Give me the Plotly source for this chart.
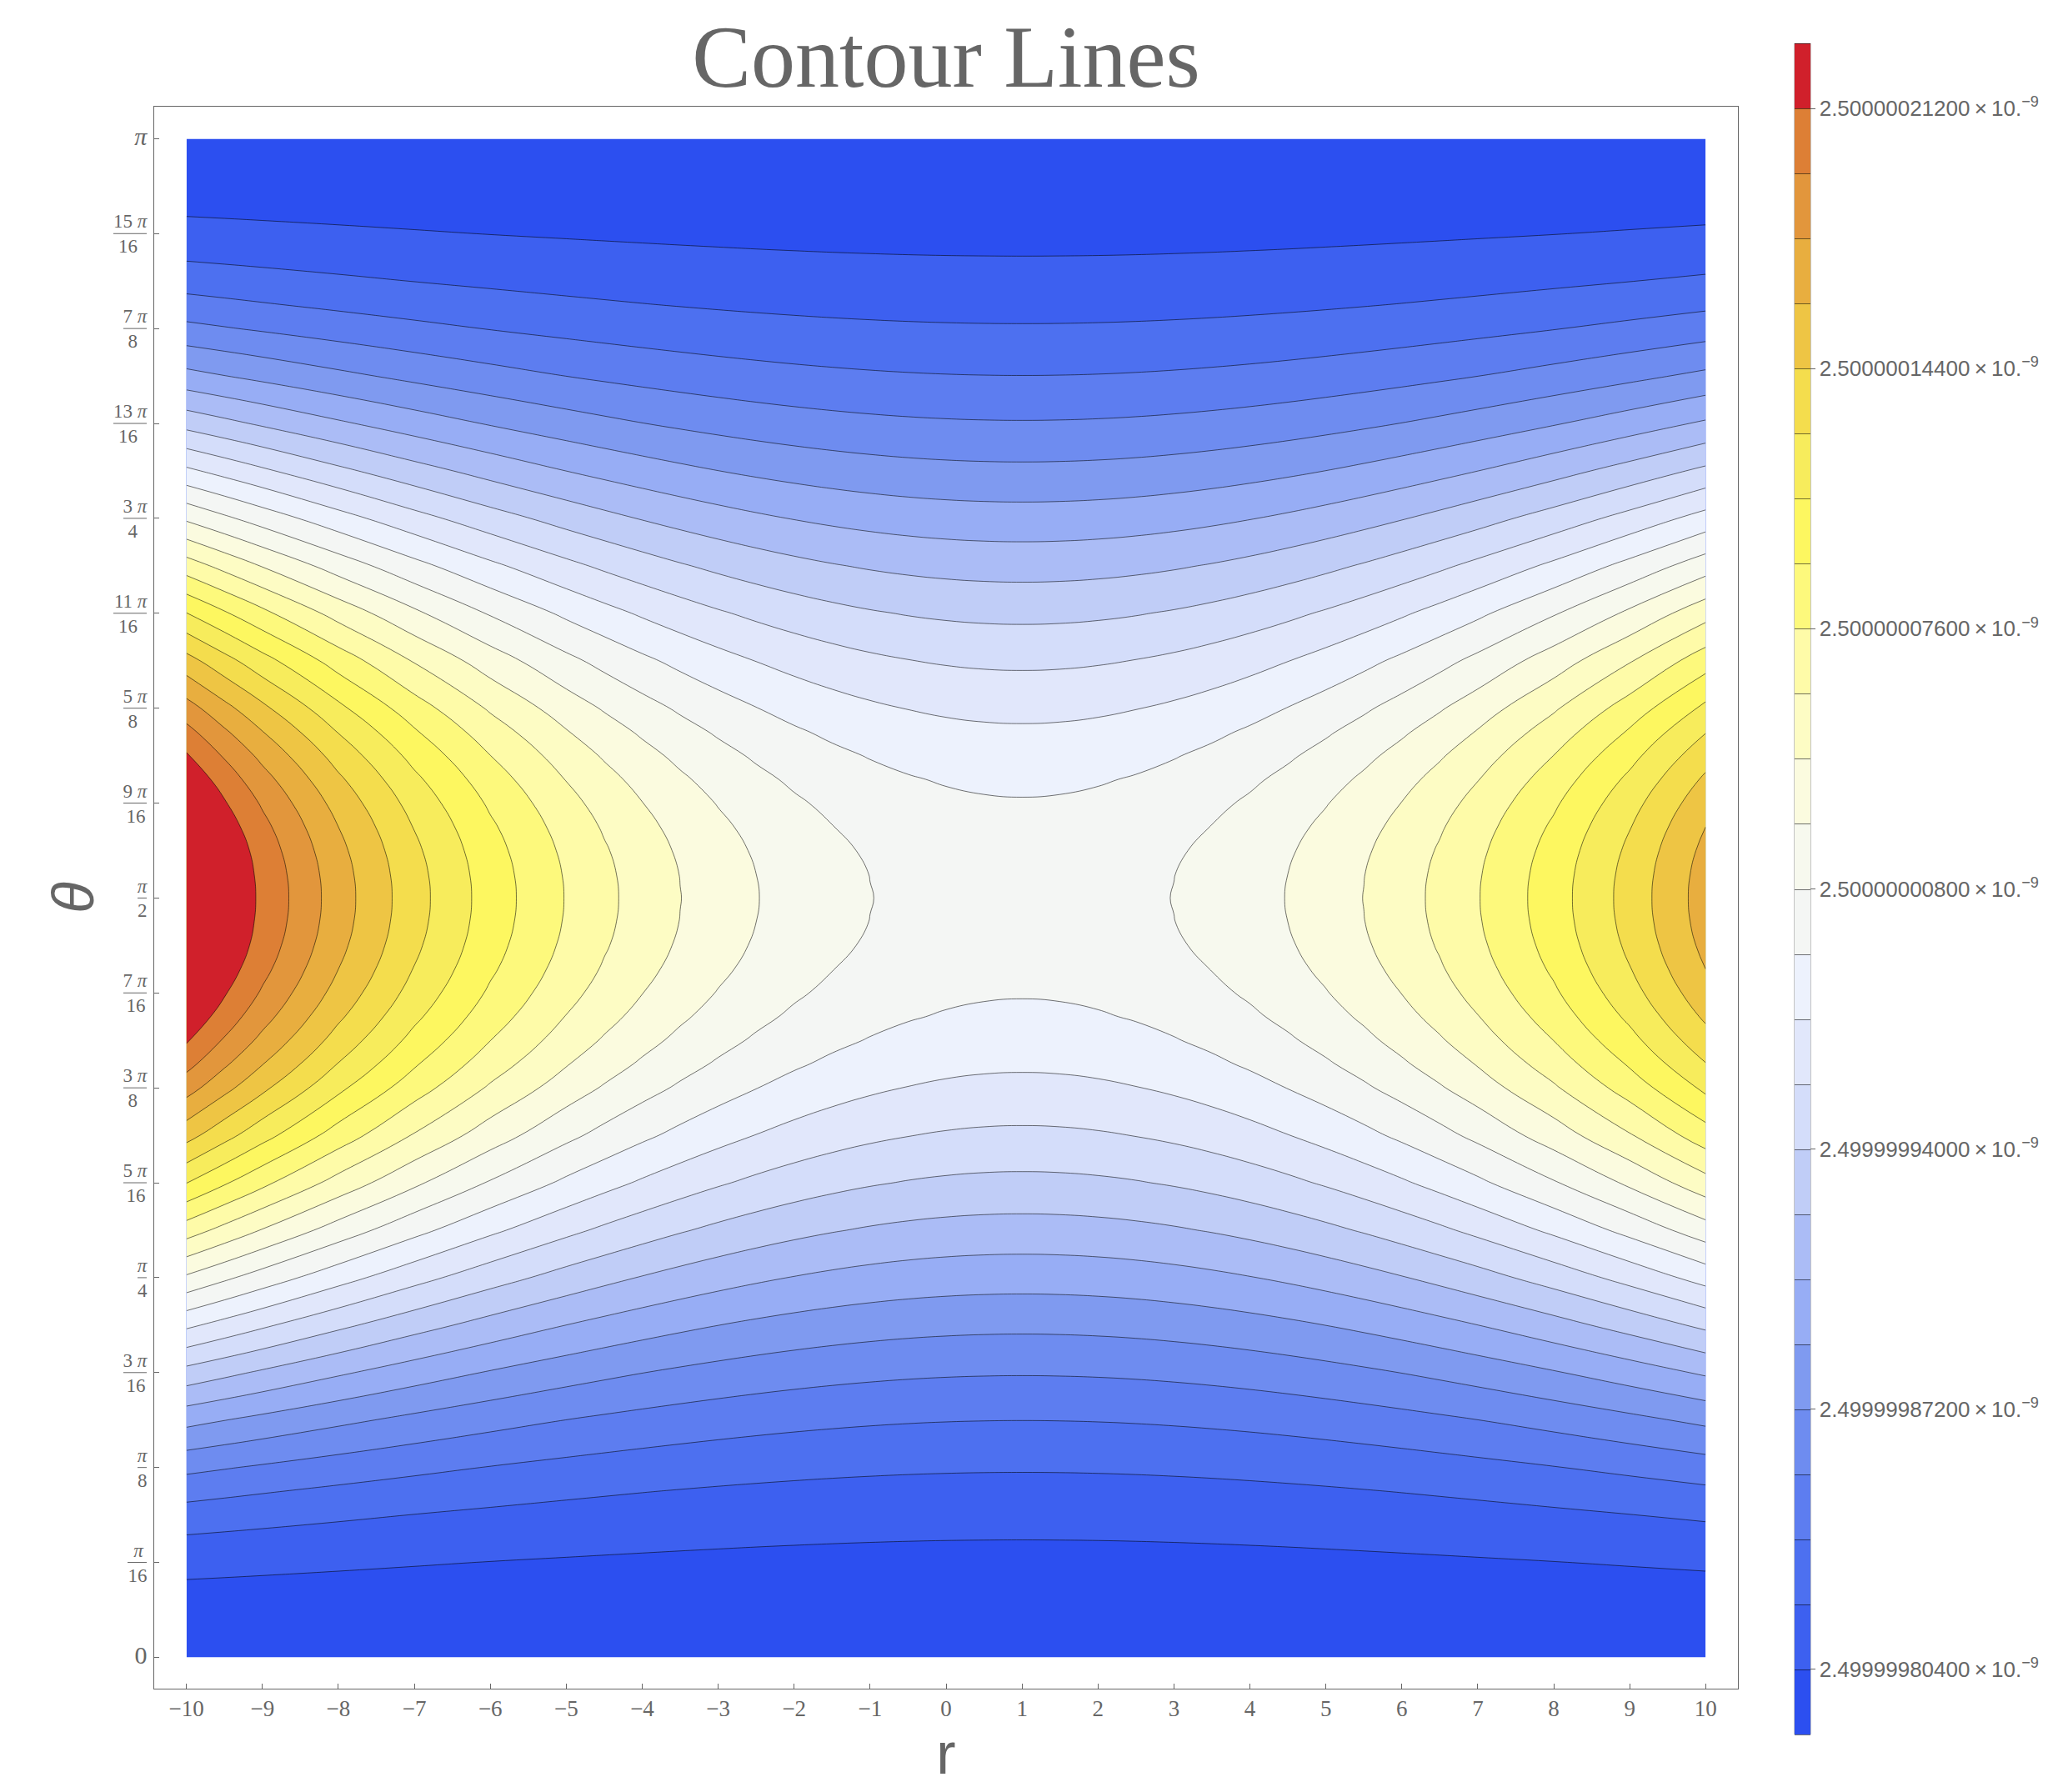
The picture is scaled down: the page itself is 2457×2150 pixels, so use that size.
import math
import plotly.graph_objects as go

# r positions of the grid
r_values = [-10, -9.5, -9, -8, -7, -6, -5, -4.5, -4, -3.5, -3, -2.5, -2, -1.5, -1, -0.5, 0, 0.5,
            1, 1.5, 2, 2.5, 3, 3.5, 4, 4.5, 5, 5.5, 6, 6.5, 7, 8, 9, 10]

# The picture is mirror-symmetric about r = 1 and theta = pi/2, so values are listed
# by distance from r = 1 (columns) and by multiple of pi/32 from theta = 0 up to pi/2 (rows)
r_distance = [0, .5, 1, 1.5, 2, 2.5, 3, 3.5, 4, 4.5, 5, 5.5, 6, 7, 8, 9, 10, 10.5, 11]
theta_steps_lower = [0, 1, 1.5, 2, 2.5, 3, 3.5, 4, 5, 6, 7, 8, 9, 10, 11, 12, 12.5, 13, 13.5, 14, 14.5, 15, 15.5, 16]

# Field values, in contour steps above the lowest line
level_rows_lower = [
    [-.71]*19,
    [-.592,-.592,-.591,-.590,-.588,-.585,-.582,-.578,-.574,-.569,-.563,-.557,-.550,-.535,-.517,-.497,-.474,-.462,-.450],
    [-.445,-.445,-.443,-.439,-.435,-.429,-.421,-.413,-.403,-.392,-.379,-.365,-.350,-.315,-.275,-.230,-.180,-.152,-.124],
    [-.244,-.243,-.240,-.234,-.226,-.215,-.202,-.187,-.169,-.150,-.127,-.103,-.076,-.015,.055,.134,.223,.271,.321],
    [.013,.015,.020,.029,.042,.058,.078,.101,.129,.160,.194,.232,.274,.368,.477,.600,.738,.812,.890],
    [.321,.324,.332,.345,.363,.386,.415,.448,.487,.531,.580,.635,.694,.829,.984,1.160,1.356,1.463,1.574],
    [.679,.683,.693,.711,.735,.766,.805,.850,.902,.962,1.028,1.101,1.181,1.362,1.571,1.808,2.073,2.216,2.366],
    [1.083,1.087,1.101,1.123,1.155,1.195,1.244,1.303,1.370,1.447,1.532,1.627,1.730,1.964,2.234,2.539,2.881,3.065,3.259],
    [2.010,2.017,2.037,2.071,2.119,2.181,2.255,2.344,2.447,2.563,2.692,2.835,2.992,3.347,3.756,4.220,4.739,5.019,5.312],
    [3.068,3.078,3.106,3.153,3.220,3.305,3.409,3.532,3.675,3.836,4.016,4.215,4.433,4.925,5.494,6.138,6.858,7.247,7.654],
    [4.216,4.229,4.266,4.327,4.414,4.525,4.661,4.821,5.007,5.217,5.452,5.711,5.995,6.638,7.379,8.219,9.158,9.665,10.196],
    [5.410,5.426,5.472,5.548,5.656,5.794,5.963,6.162,6.393,6.654,6.945,7.268,7.621,8.419,9.340,10.384,11.550,12.180,12.840],
    [6.604,6.623,6.678,6.769,6.897,7.063,7.264,7.503,7.778,8.090,8.439,8.824,9.246,10.200,11.300,12.548,13.942,14.695,15.483],
    [7.752,7.773,7.837,7.943,8.091,8.283,8.516,8.792,9.110,9.471,9.874,10.320,10.808,11.912,13.185,14.629,16.242,17.113,18.025],
    [8.810,8.834,8.906,9.025,9.192,9.408,9.670,9.980,10.339,10.745,11.198,11.700,12.249,13.490,14.923,16.547,18.361,19.341,20.367],
    [9.738,9.764,9.843,9.973,10.157,10.393,10.681,11.021,11.415,11.860,12.358,12.908,13.511,14.873,16.446,18.228,20.219,21.295,22.420],
    [10.141,10.168,10.250,10.386,10.576,10.822,11.121,11.474,11.883,12.346,12.863,13.434,14.060,15.475,17.108,18.959,21.027,22.144,23.314],
    [10.499,10.527,10.611,10.751,10.948,11.202,11.510,11.876,12.298,12.776,13.310,13.900,14.547,16.008,17.695,19.607,21.744,22.897,24.105],
    [10.807,10.836,10.923,11.067,11.269,11.530,11.847,12.223,12.656,13.147,13.696,14.303,14.967,16.469,18.202,20.167,22.362,23.548,24.789],
    [11.064,11.094,11.183,11.330,11.537,11.803,12.127,12.511,12.954,13.457,14.017,14.638,15.317,16.852,18.624,20.633,22.877,24.089,25.358],
    [11.267,11.297,11.387,11.537,11.747,12.018,12.348,12.738,13.189,13.700,14.270,14.902,15.592,17.154,18.956,20.999,23.282,24.515,25.806],
    [11.412,11.443,11.534,11.686,11.899,12.173,12.507,12.902,13.359,13.876,14.453,15.092,15.791,17.372,19.196,21.264,23.574,24.822,26.129],
    [11.500,11.531,11.623,11.776,11.990,12.267,12.603,13.001,13.461,13.982,14.563,15.207,15.911,17.503,19.341,21.424,23.751,25.008,26.324],
    [11.530,11.561,11.653,11.806,12.021,12.298,12.635,13.034,13.495,14.017,14.600,15.245,15.951,17.547,19.389,21.477,23.810,25.070,26.389],
]

lowest_line = 2.49999980400
line_step = 0.0000000170
line_count = 25
# the top band has no line above it: values stay just under the next step
top_band_ceiling = 24.9

band_colors = [
    "#2c4ff0", "#3d60f0", "#4d70f0", "#5d7df0", "#6e8cf0", "#7f9af0",
    "#97adf5", "#abbcf6", "#c0cdf7", "#d4ddfa", "#e1e7fb", "#edf2fd",
    "#f4f6f4", "#f7f9ee", "#fbfbdf", "#fdfcc4", "#fefba8", "#fdf97c",
    "#fdf760", "#f7ec5c", "#f4dd4d", "#eec544", "#e8ae3f", "#e2963c",
    "#dd7f35", "#d0202b",
]

colorbar_ticks = [2.49999980400, 2.49999987200, 2.49999994000, 2.50000000800,
                  2.50000007600, 2.50000014400, 2.50000021200]
colorbar_labels = ["2.49999980400", "2.49999987200", "2.49999994000", "2.50000000800",
                   "2.50000007600", "2.50000014400", "2.50000021200"]

r_ticks = list(range(-10, 11))
r_tick_labels = [str(v).replace("-", "\u2212") for v in r_ticks]

theta_tick_sixteenths = list(range(0, 17))
P = "<i>\u03c0</i>"
theta_tick_labels = [
    '<span style="font-size:30px">0</span>',
    f"\u2009{P}\u2009<br>16",
    f"{P}<br>8",
    f"3 {P}<br>16\u200a",
    f"{P}<br>4",
    f"5 {P}<br>16\u200a",
    f"3 {P}<br>8\u00a0\u00a0",
    f"7 {P}<br>16\u200a",
    f"{P}<br>2",
    f"9 {P}<br>16\u200a",
    f"5 {P}<br>8\u00a0\u00a0",
    f"11 {P}<br>16\u2002",
    f"3 {P}<br>4\u00a0\u00a0",
    f"13 {P}<br>16\u2002",
    f"7 {P}<br>8\u00a0\u00a0",
    f"15 {P}<br>16\u2002",
    f'<span style="font-size:30px">{P}</span>',
]
fraction_bar_px = [0, 23, 11, 28, 11, 28, 28, 28, 11, 28, 28, 40, 28, 40, 28, 40, 0]

INK = "#666666"
SERIF = "Liberation Serif"
SANS = "Liberation Sans"

theta_steps = theta_steps_lower + [32 - k for k in theta_steps_lower[-2::-1]]
theta = [k * math.pi / 32 for k in theta_steps]
level_rows = level_rows_lower + level_rows_lower[-2::-1]
z = [[lowest_line + min(row[r_distance.index(abs(r - 1))], top_band_ceiling) * line_step
      for r in r_values] for row in level_rows]

# One silent level below and above, so the colorbar shows the end bands at full height;
# the half-bands plotly adds beyond them are white.
stops = ["#ffffff"] + band_colors + ["#ffffff"]
colorscale = [[i / (len(stops) - 1), c] for i, c in enumerate(stops)]

BAR_TOP, BAR_BOTTOM = 52, 2081
BAND_PX = (BAR_BOTTOM - BAR_TOP) / 26

fig = go.Figure(go.Contour(
    x=r_values, y=theta, z=z,
    colorscale=colorscale,
    autocontour=False,
    contours=dict(start=lowest_line - line_step,
                  end=lowest_line + line_count * line_step,
                  size=line_step, coloring="fill", showlines=True),
    line=dict(color="rgba(0,0,0,0.55)", width=1, smoothing=1.3),
    colorbar=dict(
        thicknessmode="pixels", thickness=19,
        lenmode="pixels", len=BAND_PX * 27,
        x=(2153 - 185) / 1900, xanchor="left", xpad=0,
        y=(2026 - (BAR_TOP - BAND_PX / 2)) / 1898, yanchor="top", ypad=0,
        outlinewidth=0,
        tickmode="array", tickvals=colorbar_ticks,
        ticktext=[f"{t}\u2009\u00d7\u200910.<sup>\u22129</sup>" for t in colorbar_labels],
        ticks="outside", ticklen=6, tickwidth=1, tickcolor=INK,
        tickfont=dict(family=SANS, size=26, color=INK),
    ),
))

shapes = [dict(type="rect", xref="paper", yref="paper",
               x0=(2153 - 185) / 1900, x1=(2172 - 185) / 1900,
               y0=(2026 - BAR_BOTTOM) / 1898, y1=(2026 - BAR_TOP) / 1898,
               line=dict(color="#888888", width=1), fillcolor="rgba(0,0,0,0)")]
for t, w in zip(theta_tick_sixteenths, fraction_bar_px):
    if w:
        shapes.append(dict(type="line", xref="paper", yref="y",
                           x0=(176 - w - 185) / 1900, x1=(176 - 185) / 1900,
                           y0=t * math.pi / 16, y1=t * math.pi / 16,
                           line=dict(color=INK, width=1)))

fig.update_layout(
    width=2449, height=2142, autosize=False,
    margin=dict(l=177, r=372, t=120, b=124, pad=0, autoexpand=False),
    paper_bgcolor="white", plot_bgcolor="white",
    title=dict(text="Contour Lines", x=1127 / 2449, xanchor="center",
               y=1 - 59 / 2142, yanchor="middle",
               font=dict(family=SERIF, size=106, color=INK)),
    xaxis=dict(range=[-10.425, 10.425], tickmode="array", tickvals=r_ticks,
               ticktext=r_tick_labels, ticks="inside", ticklen=6, tickwidth=1,
               tickcolor=INK, showline=True, linecolor=INK, linewidth=1, mirror=True,
               showgrid=False, zeroline=False,
               tickfont=dict(family=SERIF, size=27, color=INK),
               title=dict(text="r", font=dict(family=SANS, size=70, color=INK), standoff=8)),
    yaxis=dict(range=[-0.0648, 3.2078], tickmode="array",
               tickvals=[t * math.pi / 16 for t in theta_tick_sixteenths],
               ticktext=theta_tick_labels, ticks="inside", ticklen=6, tickwidth=1,
               tickcolor=INK, showline=True, linecolor=INK, linewidth=1, mirror=True,
               showgrid=False, zeroline=False, ticklabelstandoff=3,
               tickfont=dict(family=SERIF, size=23, color=INK),
               title=dict(text="<i>\u03b8</i>", font=dict(family=SANS, size=70, color=INK), standoff=0)),
    shapes=shapes,
)

fig.write_html("out.html")
